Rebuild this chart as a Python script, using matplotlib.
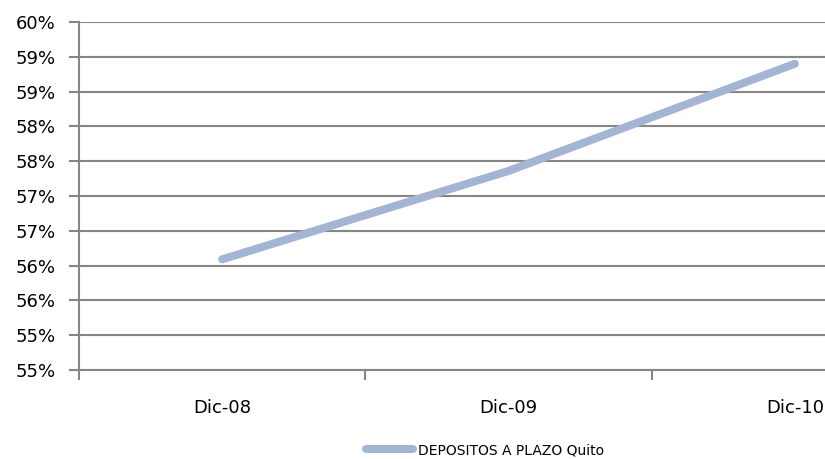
import matplotlib
matplotlib.use("Agg")
import matplotlib.pyplot as plt

categories = ["Dic-08", "Dic-09", "Dic-10"]
depositos_quito = [56.59, 57.86, 59.40]
y_ticks = [55.0, 55.5, 56.0, 56.5, 57.0, 57.5, 58.0, 58.5, 59.0, 59.5, 60.0]
y_labels = ["55%", "55%", "56%", "56%", "57%", "57%", "58%", "58%", "59%", "59%", "60%"]

grid_color = "#868686"
line_color = "#A3B5D3"

fig = plt.figure(figsize=(8.25, 4.59), dpi=100)
# the plot area runs past the right edge of the picture, as in the original
ax = fig.add_axes([79 / 825, 1 - 370 / 459, 859 / 825, 348 / 459])

x = list(range(len(categories)))
ax.plot(x, depositos_quito, color=line_color, lw=5.8, solid_capstyle="round",
        label="DEPOSITOS A PLAZO Quito", zorder=3)

ax.set_xlim(-0.5, len(categories) - 0.5)
ax.set_ylim(y_ticks[0], y_ticks[-1])
ax.set_yticks(y_ticks)
ax.set_yticklabels(y_labels)
ax.yaxis.grid(True, color=grid_color, lw=1.5)
ax.set_axisbelow(True)

# category boundaries get the tick marks, labels sit in the middle
ax.set_xticks([i - 0.5 for i in range(len(categories) + 1)])
ax.set_xticklabels([])
ax.set_xticks(x, minor=True)
ax.set_xticklabels(categories, minor=True)
ax.tick_params(axis="x", which="major", length=7, width=1.5, color=grid_color)
ax.tick_params(axis="x", which="minor", length=0, pad=21, labelsize=13)
ax.tick_params(axis="y", length=7, width=1.5, color=grid_color, pad=10, labelsize=13)

for side in ["top", "right"]:
    ax.spines[side].set_visible(False)
for side in ["left", "bottom"]:
    ax.spines[side].set_color(grid_color)
    ax.spines[side].set_linewidth(1.5)

fig.legend(loc="center", bbox_to_anchor=(485 / 825, 1 - 450 / 459), frameon=False,
           fontsize=10, handlelength=3.4, handletextpad=0.4)

fig.savefig("out.png", dpi=100)
